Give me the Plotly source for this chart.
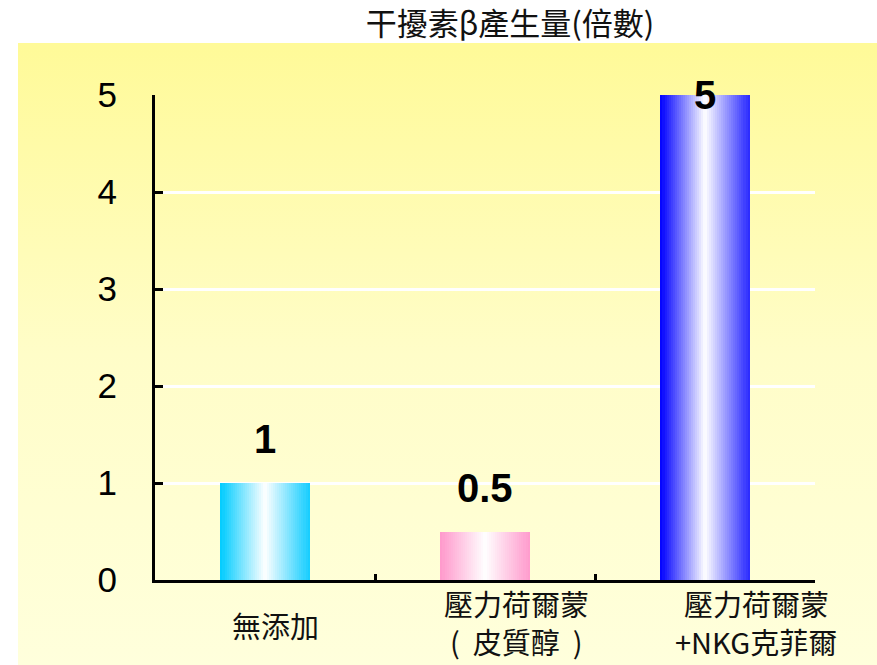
import base64
import plotly.graph_objects as go

# ---- data ----
categories = ["無添加", "壓力荷爾蒙（皮質醇）", "壓力荷爾蒙+NKG克菲爾"]
category_lines = [["無添加"], ["壓力荷爾蒙", "(&nbsp;&nbsp;皮質醇&nbsp;&nbsp;)"], ["壓力荷爾蒙", "+NKG克菲爾"]]
values = [1, 0.5, 5]
y_ticks = [0, 1, 2, 3, 4, 5]
title_text = "干擾素β產生量(倍數)"

# ---- style ----
W, H = 877, 665
ML, MR, MT, MB = 155, 62, 95, 85
PW, PH = W - ML - MR, H - MT - MB
edge_left = [(0, 204, 255), (255, 153, 204), (0, 0, 255)]
edge_right = [(20, 205, 255), (255, 155, 205), (40, 40, 255)]
bar_w = 0.405
n_slices = 44
label_xshift = [10, 31, 51]

fig = go.Figure()

slice_w = bar_w / n_slices
for i in range(n_slices):
    t = (i + 0.5) / n_slices
    f = 1 - abs(2 * t - 1)
    cols = []
    for L, R in zip(edge_left, edge_right):
        e = L if t < 0.5 else R
        c = tuple(round(e[k] + (255 - e[k]) * f) for k in range(3))
        cols.append("rgb(%d,%d,%d)" % c)
    fig.add_trace(go.Bar(
        x=categories, y=values,
        width=slice_w * 1.08, offset=-bar_w / 2 + i * slice_w,
        marker=dict(color=cols, line=dict(width=0)),
        hoverinfo="skip", showlegend=False,
    ))

# value labels
for c, v in zip(categories, values):
    fig.add_annotation(
        x=c, y=min(v + 0.45, max(y_ticks)), xref="x", yref="y",
        text=f"{v:g}", showarrow=False, yanchor="middle",
        font=dict(family="Liberation Sans, Arial", size=40, color="black", weight="bold"),
    )

# category labels
for c, lines, xs in zip(categories, category_lines, label_xshift):
    if len(lines) == 1:
        shifts = [-45]
    else:
        shifts = [-23, -61]
    for ln, ys in zip(lines, shifts):
        fig.add_annotation(
            x=c, y=0, xref="x", yref="y", text=ln, showarrow=False,
            yanchor="middle", xanchor="center", xshift=xs, yshift=ys,
            font=dict(family="Noto Sans CJK TC", size=29, color="#111"),
        )

# background gradient image
svg = ('<svg xmlns="http://www.w3.org/2000/svg" width="100" height="100" viewBox="0 0 100 100" '
       'preserveAspectRatio="none"><defs><linearGradient id="g" x1="0" y1="0" x2="0" y2="1">'
       '<stop offset="0" stop-color="#FFFA98"/><stop offset="0.5" stop-color="#FFFDC8"/>'
       '<stop offset="1" stop-color="#FFFFDC"/></linearGradient></defs>'
       '<rect x="0" y="0" width="100" height="100" fill="url(#g)"/></svg>')
src = "data:image/svg+xml;base64," + base64.b64encode(svg.encode()).decode()
bx0, bx1, by0, by1 = 18, 877, 43, 665
fig.add_layout_image(
    source=src, xref="paper", yref="paper",
    x=(bx0 - ML) / PW, y=(H - MB - by0) / PH,
    sizex=(bx1 - bx0) / PW, sizey=(by1 - by0) / PH,
    xanchor="left", yanchor="top", sizing="stretch", layer="below",
)

fig.update_layout(
    width=W, height=H,
    margin=dict(l=ML, r=MR, t=MT, b=MB, pad=0),
    paper_bgcolor="white", plot_bgcolor="rgba(0,0,0,0)",
    barmode="overlay", bargap=0,
    title=dict(text=title_text, x=510 / W, xanchor="center", y=1 - 24 / H, yanchor="middle",
               yref="container", xref="container",
               font=dict(family="Noto Sans CJK TC", size=31, color="#111")),
)
fig.update_xaxes(
    showline=True, linecolor="black", linewidth=3,
    showgrid=False, zeroline=False, showticklabels=False,
    ticks="inside", tickson="boundaries", ticklen=6, tickwidth=3, tickcolor="black",
    range=[-0.5, 2.5],
)
fig.update_yaxes(
    range=[0, 5], tickvals=y_ticks,
    showline=True, linecolor="black", linewidth=3,
    showgrid=True, gridcolor="white", gridwidth=3, zeroline=False,
    ticks="inside", ticklen=8, tickwidth=3, tickcolor="black",
    ticklabelstandoff=28,
    tickfont=dict(family="Liberation Sans, Arial", size=35, color="black"),
)

fig.write_html("out.html")
